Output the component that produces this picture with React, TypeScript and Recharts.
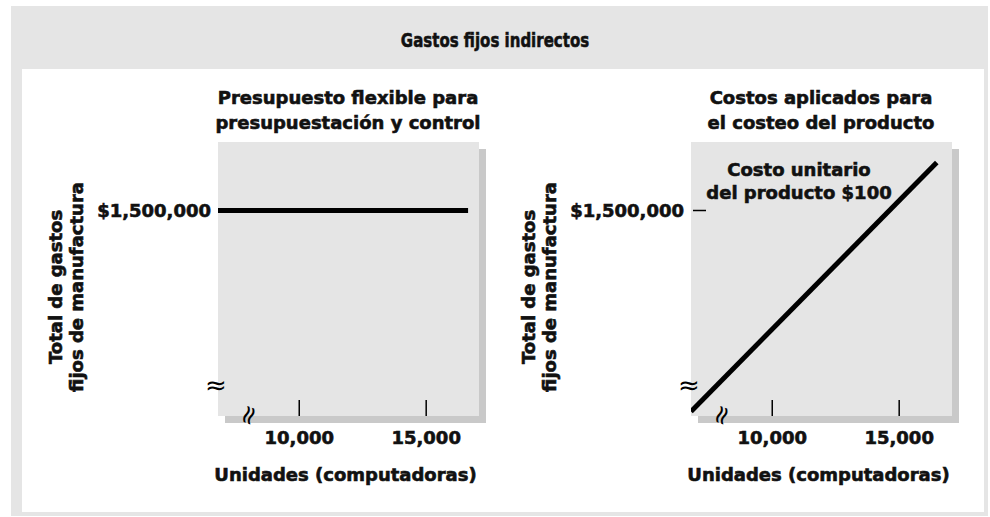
import React from 'react';
import { LineChart, Line, XAxis, YAxis, ReferenceArea, Label } from 'recharts';

// values
const xTicks = [10000, 15000];
const yTicks = [1500000];
const xDomain = [6800, 17080];
const yDomain = [600000, 1800000];

const flexUnits = [6800, 16650];
const flexCost = [1500000, 1500000];

const appliedUnits = [6800, 16480];
const appliedCost = [620000, 1710000];

const FONT = "'DejaVu Sans', sans-serif";
const PLOT_BG = '#e5e5e5';
const SHADOW = '#c9c9c9';
const INK = '#111';

const flexData = flexUnits.map((u, i) => ({ units: u, cost: flexCost[i] }));
const appliedData = appliedUnits.map((u, i) => ({ units: u, cost: appliedCost[i] }));

const fmt = (v: number) => v.toLocaleString('en-US');

const boldText = {
  fontFamily: FONT,
  fontWeight: 'bold' as const,
  fontSize: 18,
  fill: INK,
  stroke: INK,
  strokeWidth: 0.6,
};

const PlotBox = (props: any) => {
  const { x, y, width, height } = props;
  return (
    <g>
      <rect x={x + 7} y={y + 7} width={width} height={height} fill={SHADOW} />
      <rect x={x} y={y} width={width} height={height} fill={PLOT_BG} />
    </g>
  );
};

const XTick = (props: any) => {
  const { x, y, payload } = props;
  return (
    <g>
      <line x1={x} x2={x} y1={y - 16} y2={y} stroke="#000" strokeWidth={1.5} />
      <text x={x} y={y + 28} textAnchor="middle" {...boldText}>
        {fmt(payload.value)}
      </text>
    </g>
  );
};

const makeYTick = (dash: boolean) => (props: any) => {
  const { x, y, payload } = props;
  return (
    <g>
      {dash && <line x1={x + 2} x2={x + 15} y1={y} y2={y} stroke="#000" strokeWidth={1.5} />}
      <text x={x - 7} y={y + 6.5} textAnchor="end" {...boldText}>
        {'$' + fmt(payload.value)}
      </text>
    </g>
  );
};

const renderXLabel = (props: any) => {
  const { x, y, width } = props.viewBox;
  const bx = x + 30;
  const by = y - 1;
  return (
    <g>
      <text x={bx} y={by} textAnchor="middle" dominantBaseline="central" fontFamily={FONT} fontSize={26} fill="#000"
        transform={`rotate(-70, ${bx}, ${by})`}>
        ≈
      </text>
      <text x={x + width / 2 - 3} y={y + 65} textAnchor="middle" {...boldText}>
        Unidades (computadoras)
      </text>
    </g>
  );
};

const renderYLabel = (props: any) => {
  const { x, y, width, height } = props.viewBox;
  const left = x + width;
  const cy = y + height / 2 + 8;
  const l1 = left - 163;
  const l2 = left - 142;
  return (
    <g>
      <text x={l1} y={cy} textAnchor="middle" dominantBaseline="central" {...boldText}
        transform={`rotate(-90, ${l1}, ${cy})`}>
        Total de gastos
      </text>
      <text x={l2} y={cy} textAnchor="middle" dominantBaseline="central" {...boldText}
        transform={`rotate(-90, ${l2}, ${cy})`}>
        fijos de manufactura
      </text>
      <text x={left - 2} y={y + height - 31} textAnchor="middle" dominantBaseline="central" fontFamily={FONT} fontSize={26} fill="#000">
        ≈
      </text>
    </g>
  );
};

interface PanelProps {
  data: { units: number; cost: number }[];
  marginLeft: number;
  marginRight: number;
  dash: boolean;
}

const Panel: React.FC<PanelProps> = ({ data, marginLeft, marginRight, dash }) => (
  <LineChart
    width={470}
    height={440}
    data={data}
    margin={{ top: 73, right: marginRight, left: marginLeft - 1, bottom: 92 }}
  >
    <XAxis
      type="number"
      dataKey="units"
      domain={xDomain}
      ticks={xTicks}
      interval={0}
      allowDataOverflow
      height={1}
      tickSize={0}
      tickMargin={0}
      axisLine={false}
      tickLine={false}
      tick={<XTick />}
      label={<Label content={renderXLabel} />}
    />
    <YAxis
      type="number"
      domain={yDomain}
      ticks={yTicks}
      interval={0}
      allowDataOverflow
      width={1}
      tickSize={0}
      tickMargin={0}
      axisLine={false}
      tickLine={false}
      tick={makeYTick(dash)}
      label={<Label content={renderYLabel} />}
    />
    <ReferenceArea x1={xDomain[0]} x2={xDomain[1]} y1={yDomain[0]} y2={yDomain[1]} shape={<PlotBox />} ifOverflow="visible" />
    <Line
      type="linear"
      dataKey="cost"
      stroke="#000"
      strokeWidth={5}
      dot={false}
      activeDot={false}
      isAnimationActive={false}
    />
  </LineChart>
);

const titleStyle: React.CSSProperties = {
  position: 'absolute',
  fontFamily: FONT,
  fontWeight: 'bold',
  fontSize: 18,
  lineHeight: '25px',
  color: INK,
  textAlign: 'center',
  whiteSpace: 'nowrap',
  WebkitTextStroke: '0.6px #111',
};

export default function App() {
  return (
    <div style={{ position: 'absolute', left: 0, top: 0, width: 990, height: 517, background: '#fff', overflow: 'hidden' }}>
      <div style={{ position: 'absolute', left: 11, top: 6, width: 977, height: 510, background: '#e5e5e5' }} />
      <div style={{ position: 'absolute', left: 22, top: 69, width: 962, height: 443, background: '#fff' }} />
      <div
        style={{
          ...titleStyle,
          left: 295,
          width: 400,
          top: 30,
          fontSize: 20,
          lineHeight: '20px',
          transform: 'scaleX(0.75)',
        }}
      >
        Gastos fijos indirectos
      </div>

      <div style={{ position: 'absolute', left: 22, top: 69 }}>
        <Panel data={flexData} marginLeft={196} marginRight={13} dash={false} />
      </div>
      <div style={{ position: 'absolute', left: 496, top: 69 }}>
        <Panel data={appliedData} marginLeft={195} marginRight={14} dash={true} />
      </div>

      <div style={{ ...titleStyle, left: 198, width: 300, top: 85 }}>
        Presupuesto flexible para
        <br />
        presupuestación y control
      </div>
      <div style={{ ...titleStyle, left: 671, width: 300, top: 85 }}>
        Costos aplicados para
        <br />
        el costeo del producto
      </div>
      <div style={{ ...titleStyle, left: 699, width: 200, top: 158, lineHeight: '23px' }}>
        Costo unitario
        <br />
        del producto $100
      </div>
    </div>
  );
}
